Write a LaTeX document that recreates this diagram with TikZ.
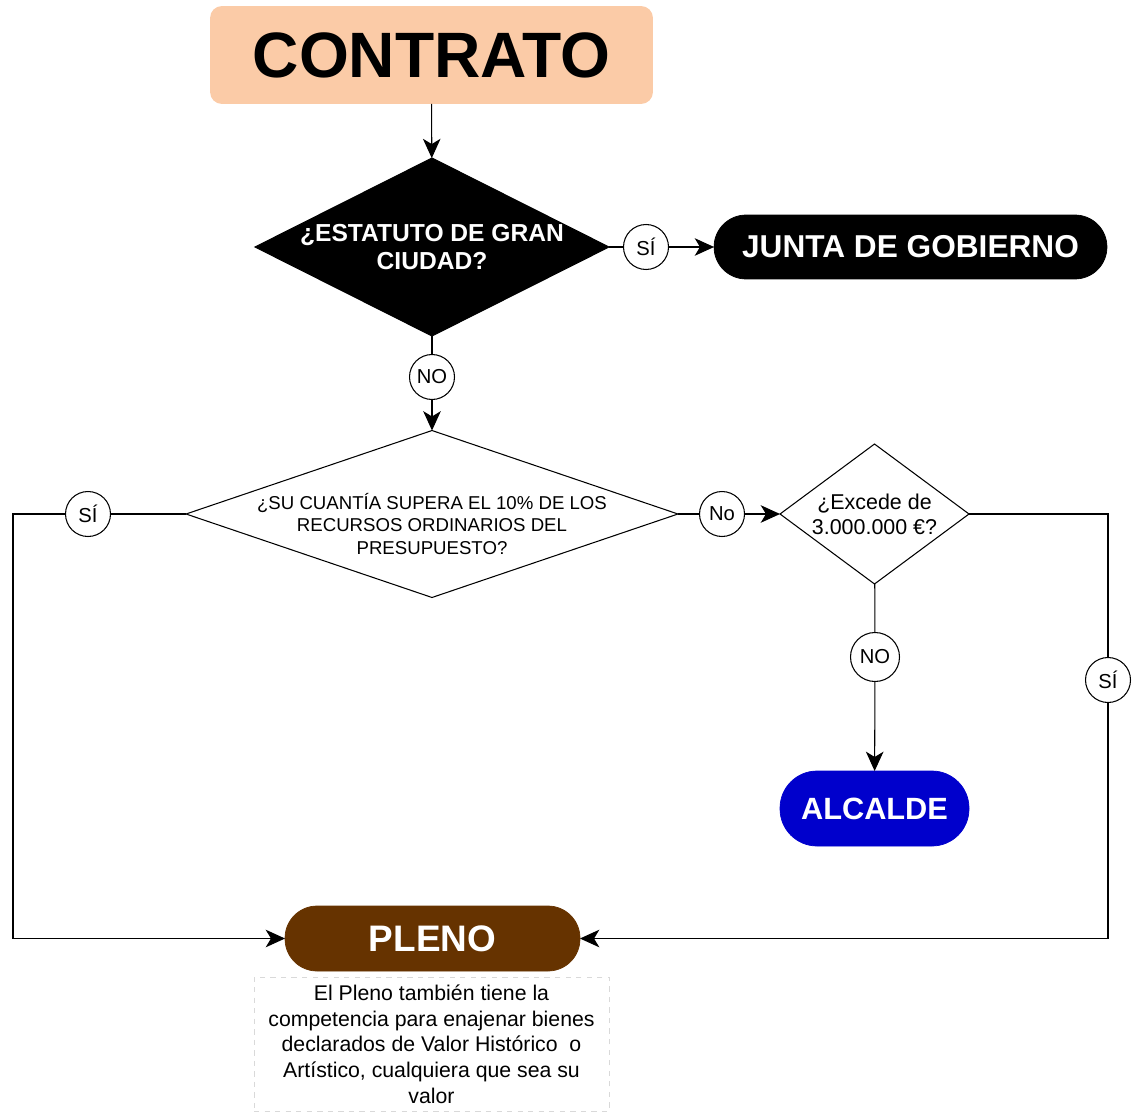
\documentclass[tikz,border=0pt]{standalone}
\usepackage{fontspec}
\setmainfont{Liberation Sans}
\usetikzlibrary{shapes.geometric,arrows.meta}
\definecolor{melocoton}{HTML}{FBCBA7}
\definecolor{azulalc}{HTML}{0000CC}
\definecolor{marron}{HTML}{663300}
\begin{document}
\begin{tikzpicture}[
    x=0.02cm, y=-0.02cm,
    caja/.style = {rectangle, rounded corners=0.24cm, fill=melocoton, inner sep=0pt, outer sep=0pt},
    final/.style = {rectangle, rounded corners=0.64cm, draw=#1, fill=#1, text=white, font=\bfseries, inner sep=0pt, outer sep=0pt},
    pregunta/.style = {diamond, draw, line width=0.6pt, inner sep=0pt, outer sep=0pt},
    resp/.style = {circle, draw, fill=white, line width=0.6pt, minimum size=0.9cm, inner sep=0pt, font=\fontsize{11.5}{13}\selectfont},
    arrow/.style = {draw, line width=0.6pt, -{Stealth[length=11pt, width=10pt, inset=3pt]}},
    linea/.style = {draw, line width=0.6pt}
]
    \useasboundingbox (0,0) rectangle (1141,1111);

    \node[caja, minimum width=8.86cm, minimum height=1.96cm, font=\fontsize{36.5}{40}\selectfont\bfseries] (contrato) at (431.5,55) {CONTRATO};

    \node[pregunta, fill=black, minimum width=7.08cm, minimum height=3.56cm] (q1) at (432,247) {};
    \node[align=center, text=white, font=\fontsize{14}{16.4}\selectfont\bfseries] at (q1) {¿ESTATUTO DE GRAN\\CIUDAD?};
    \node[resp] (si1) at (646,247) {SÍ};
    \node[final=black, minimum width=7.86cm, minimum height=1.28cm, font=\fontsize{18}{20}\selectfont\bfseries] (junta) at (910.5,247) {JUNTA DE GOBIERNO};

    \node[resp] (no1) at (432,377) {NO};

    \node[pregunta, fill=white, minimum width=9.84cm, minimum height=3.34cm] (q2) at (432,514) {};
    \node[align=center, yshift=-0.2cm, font=\fontsize{10.6}{12.8}\selectfont] at (q2) {¿SU CUANTÍA SUPERA EL 10\% DE LOS\\RECURSOS ORDINARIOS DEL\\PRESUPUESTO?};
    \node[resp] (si2) at (88,514) {SÍ};
    \node[resp] (no2) at (722,514) {No};

    \node[pregunta, fill=white, minimum width=3.78cm, minimum height=2.8cm] (q3) at (874.5,514) {};
    \node[align=center, font=\fontsize{12.2}{14.2}\selectfont] at (q3) {¿Excede de\\3.000.000 €?};
    \node[resp, minimum size=0.98cm] (no3) at (875,657) {NO};
    \node[resp] (si3) at (1108,680) {SÍ};

    \node[final=azulalc, minimum width=3.78cm, minimum height=1.5cm, rounded corners=0.74cm, font=\fontsize{17.5}{20}\selectfont\bfseries] (alcalde) at (874.5,808.5) {ALCALDE};

    \node[final=marron, minimum width=5.9cm, minimum height=1.3cm, font=\fontsize{21}{24}\selectfont\bfseries] (pleno) at (432.5,938.5) {PLENO};
    \node[draw=gray!30, dashed, line width=0.5pt, minimum width=7.1cm, minimum height=2.68cm, align=center, font=\fontsize{12.1}{14.6}\selectfont] (nota) at (431.5,1044) {El Pleno también tiene la\\competencia para enajenar bienes\\declarados de Valor Histórico\ \ o\\Artístico, cualquiera que sea su\\valor};

    \coordinate (c1) at (13,514);
    \coordinate (c3) at (1108,514);

    \path[arrow] (contrato) -- (q1);
    \path[linea] (q1) -- (si1);
    \path[arrow] (si1) -- (junta);
    \path[linea] (q1) -- (no1);
    \path[arrow] (no1) -- (q2);
    \path[linea] (q2) -- (si2);
    \path[arrow] (si2) -- (c1) |- (pleno);
    \path[linea] (q2) -- (no2);
    \path[arrow] (no2) -- (q3);
    \path[linea] (q3) -- (no3);
    \path[arrow] (no3) -- (alcalde);
    \path[linea] (q3.east) -- (c3) -- (si3);
    \path[arrow] (si3) |- (pleno);
\end{tikzpicture}
\end{document}
